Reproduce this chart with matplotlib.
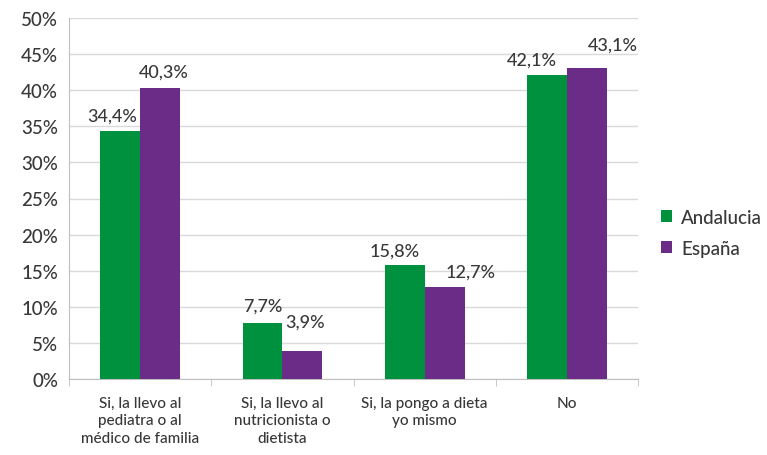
import matplotlib
matplotlib.use("Agg")
import matplotlib.pyplot as plt
import numpy as np

# Data
categories = ["Si, la llevo al\npediatra o al\nmédico de familia",
              "Si, la llevo al\nnutricionista o\ndietista",
              "Si, la pongo a dieta\nyo mismo",
              "No"]
andalucia = [34.4, 7.7, 15.8, 42.1]
espana = [40.3, 3.9, 12.7, 43.1]
series_names = ["Andalucia", "España"]
yticks = [0, 5, 10, 15, 20, 25, 30, 35, 40, 45, 50]

green = "#00913F"
purple = "#6B2C87"
text_col = "#383838"

# label nudges (points) to mimic the hand-placed labels
nudge_a = [(-6, 11), (0, 13), (-7, 10), (-11, 11)]
nudge_e = [(3, 12), (2, 21), (19, 11), (19, 17)]

plt.rcParams['font.family'] = ['Lato', 'DejaVu Sans']
plt.rcParams['font.weight'] = 'medium'

fig = plt.figure(figsize=(7.67, 4.56), dpi=100)
ax = fig.add_axes([0.09, 0.167, 0.742, 0.791])

x = np.arange(len(categories))
w = 0.28
b1 = ax.bar(x - w / 2, andalucia, w, color=green, label=series_names[0], zorder=3)
b2 = ax.bar(x + w / 2, espana, w, color=purple, label=series_names[1], zorder=3)

def fmt(v):
    return f"{v:.1f}%".replace(".", ",")

for bars, vals, nudges in [(b1, andalucia, nudge_a), (b2, espana, nudge_e)]:
    for r, v, (dx, dy) in zip(bars, vals, nudges):
        ax.annotate(fmt(v), (r.get_x() + r.get_width() / 2, v),
                    xytext=(dx, dy), textcoords="offset points",
                    ha="center", va="center", fontsize=13, color=text_col,
                    zorder=4)

ax.set_xlim(-0.5, len(categories) - 0.5)
ax.set_ylim(0, 50)
ax.set_yticks(yticks)
ax.set_yticklabels([f"{t}%" for t in yticks], fontsize=13.5, color=text_col)
ax.set_xticks(x)
ax.set_xticklabels(categories, fontsize=11, color=text_col, linespacing=1.35)
ax.tick_params(axis="x", length=0, pad=12)
ax.tick_params(axis="y", length=0, pad=8)

# category separators
ax.set_xticks(np.arange(len(categories) + 1) - 0.5, minor=True)
ax.tick_params(axis="x", which="minor", length=5, color="#BFBFBF")

ax.grid(axis="y", color="#D9D9D9", linewidth=1, zorder=0)
for s in ["top", "right"]:
    ax.spines[s].set_visible(False)
ax.spines["left"].set_color("#BFBFBF")
ax.spines["bottom"].set_color("#BFBFBF")

leg = ax.legend(loc="center left", bbox_to_anchor=(1.01, 0.405), frameon=False,
                fontsize=13.5, handlelength=0.6, handleheight=0.6,
                handletextpad=0.5, labelspacing=0.75)
for t in leg.get_texts():
    t.set_color(text_col)

fig.savefig("out.png", dpi=100)
